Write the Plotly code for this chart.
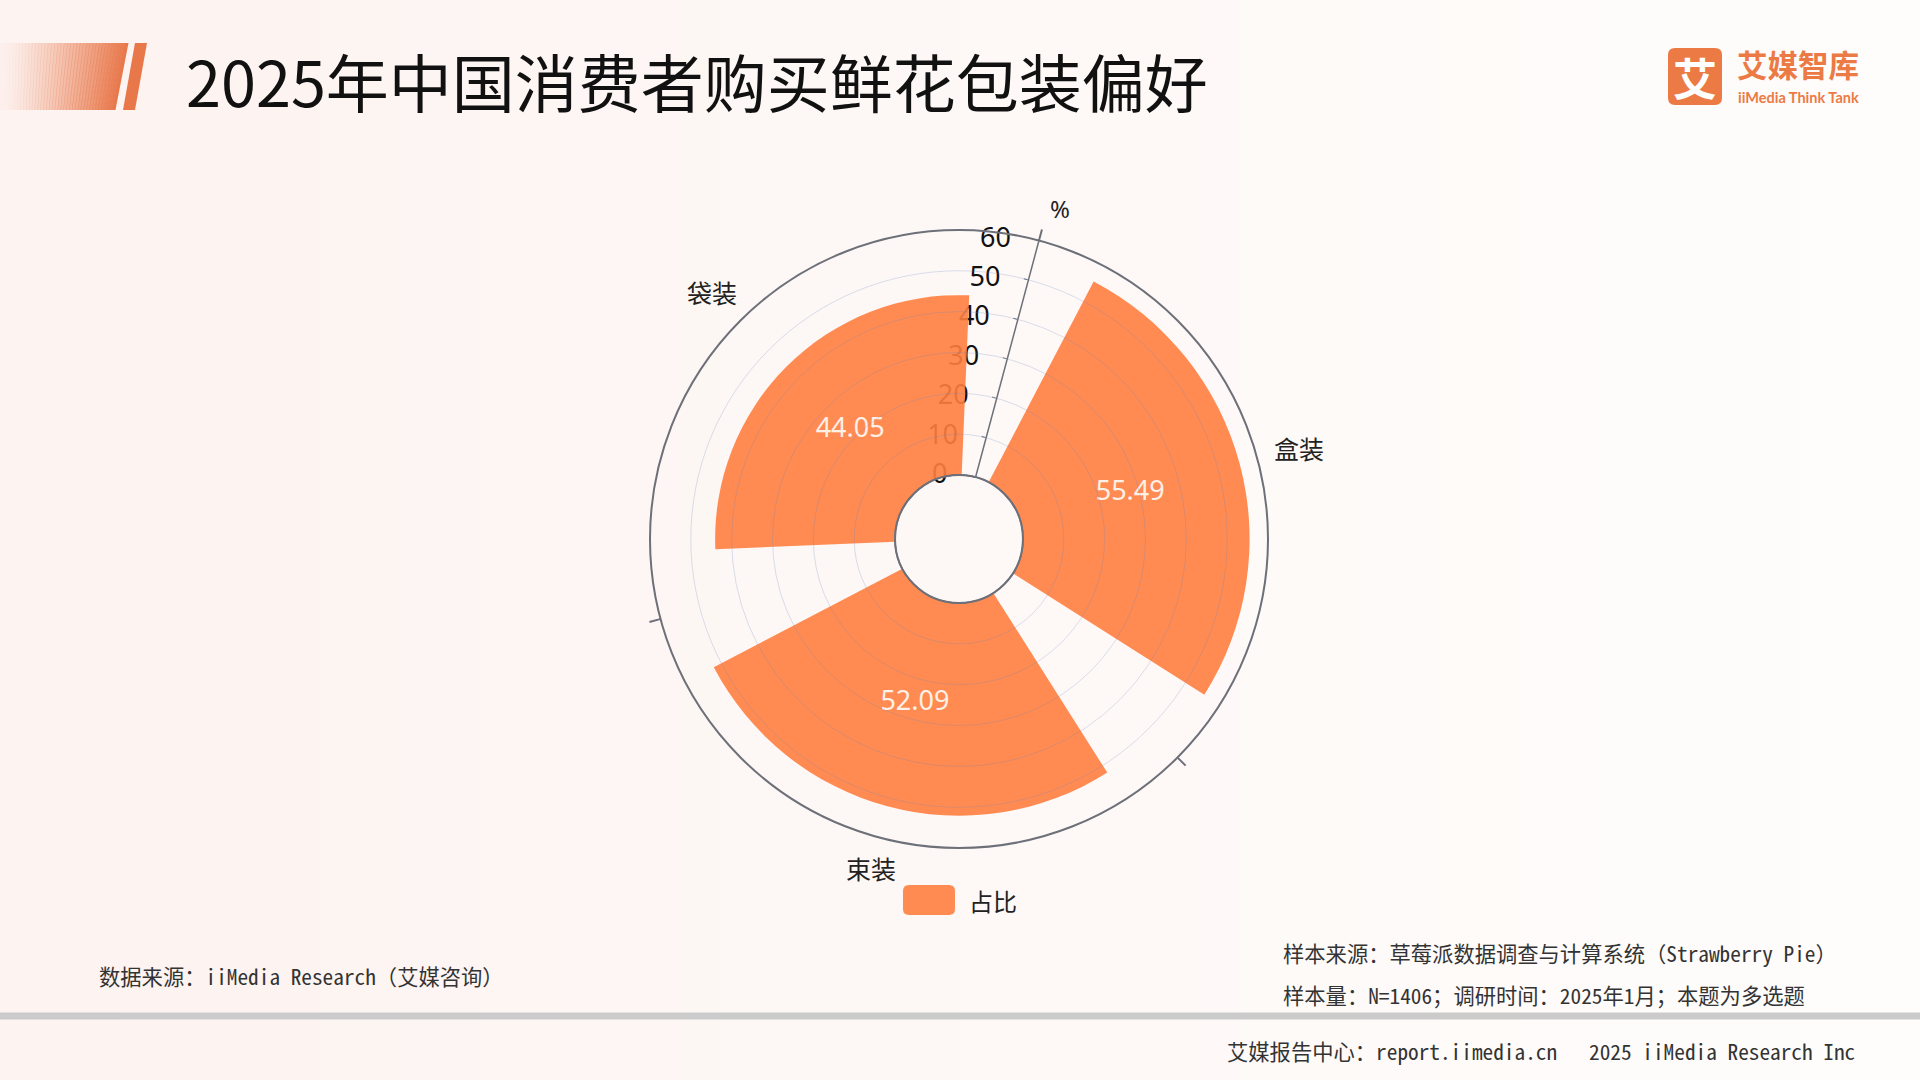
import math
import plotly.graph_objects as go

# ---------------- data ----------------
categories = ["盒装", "束装", "袋装"]
values = [55.49, 52.09, 44.05]
series_name = "占比"
radial_ticks = [0, 10, 20, 30, 40, 50, 60]
radial_unit = "%"
title_text = "2025年中国消费者购买鲜花包装偏好"
source_left = "数据来源：iiMedia Research（艾媒咨询）"
sample_source = "样本来源：草莓派数据调查与计算系统（Strawberry Pie）"
sample_size = "样本量：N=1406；调研时间：2025年1月；本题为多选题"
footer_text = "艾媒报告中心：report.iimedia.cn\u00a0\u00a0\u00a02025 iiMedia Research Inc"

# ---------------- layout helpers ----------------
W, H = 1920, 1080
CX, CY, R = 959, 539, 309
HOLE = 0.207
ORANGE = "#e8774a"
BAR_COLOR = "rgba(255,126,64,0.9)"
AXIS_GRAY = "#6e7079"
CJK = "Noto Sans CJK SC"
MONO = "Noto Sans Mono CJK SC, Noto Sans CJK SC"
FOOT = 21.3


def px(x):
    return x / W


def py(y):
    return 1 - y / H


def hexmix(c1, c2, t):
    a = [int(c1[i:i + 2], 16) for i in (1, 3, 5)]
    b = [int(c2[i:i + 2], 16) for i in (1, 3, 5)]
    return "rgb(%d,%d,%d)" % tuple(round(a[k] + (b[k] - a[k]) * t) for k in range(3))


shapes = []
# background horizontal gradient
NB = 48
for i in range(NB):
    shapes.append(dict(type="rect", xref="paper", yref="paper", layer="below",
                       x0=i / NB, x1=(i + 1) / NB + 0.001, y0=0, y1=1,
                       line=dict(width=0),
                       fillcolor=hexmix("#fdf3f0", "#fefdfc", i / (NB - 1))))

# title gradient parallelogram
NG = 40
top_w, bot_w, ty0, ty1 = 128, 115, 43, 110
for i in range(NG):
    a, b = i / NG, (i + 1) / NG
    pts = [(a * top_w, ty0), (b * top_w + 0.5, ty0), (b * bot_w + 0.5, ty1), (a * bot_w, ty1)]
    path = "M " + " L ".join("%f,%f" % (px(x), py(y)) for x, y in pts) + " Z"
    shapes.append(dict(type="path", xref="paper", yref="paper", path=path,
                       fillcolor=ORANGE, opacity=max(0.02, ((i + 0.5) / NG) ** 1.3),
                       line=dict(width=0), layer="above"))
stripe = [(135, 43), (147, 43), (135, 110), (123, 110)]
shapes.append(dict(type="path", xref="paper", yref="paper",
                   path="M " + " L ".join("%f,%f" % (px(x), py(y)) for x, y in stripe) + " Z",
                   fillcolor=ORANGE, line=dict(width=0)))


def rounded_rect(x0, y0, x1, y1, r):
    p = [
        ("M", [(x0 + r, y0)]), ("L", [(x1 - r, y0)]), ("Q", [(x1, y0), (x1, y0 + r)]),
        ("L", [(x1, y1 - r)]), ("Q", [(x1, y1), (x1 - r, y1)]), ("L", [(x0 + r, y1)]),
        ("Q", [(x0, y1), (x0, y1 - r)]), ("L", [(x0, y0 + r)]), ("Q", [(x0, y0), (x0 + r, y0)]),
    ]
    s = ""
    for cmd, pts in p:
        s += cmd + " " + " ".join("%f,%f" % (px(x), py(y)) for x, y in pts) + " "
    return s + "Z"


# logo square
shapes.append(dict(type="path", xref="paper", yref="paper", path=rounded_rect(1668, 48, 1722, 105, 7),
                   fillcolor="#ec7a45", line=dict(width=0)))
# legend swatch
shapes.append(dict(type="path", xref="paper", yref="paper", path=rounded_rect(903, 885, 955, 915, 6),
                   fillcolor="#ff8a52", line=dict(width=0)))
# hole circle
rh = R * HOLE
shapes.append(dict(type="circle", xref="paper", yref="paper",
                   x0=px(CX - rh), x1=px(CX + rh), y0=py(CY + rh), y1=py(CY - rh),
                   line=dict(color=AXIS_GRAY, width=1.5), fillcolor="rgba(0,0,0,0)", layer="above"))
# footer separator
shapes.append(dict(type="rect", xref="paper", yref="paper", x0=0, x1=1,
                   y0=py(1019.5), y1=py(1012.5), fillcolor="#cbcbcb", line=dict(width=0)))

annotations = [
    dict(text=title_text, x=px(184), y=py(79), xanchor="left", yanchor="middle",
         font=dict(size=63, color="#111111", family=CJK)),
    dict(text="<b>艾</b>", x=px(1695), y=py(77), xanchor="center", yanchor="middle",
         font=dict(size=44, color="#ffffff", family=CJK)),
    dict(text="<b>艾媒智库</b>", x=px(1735), y=py(88), xanchor="left", yanchor="bottom",
         font=dict(size=30.5, color="#ec7a45", family=CJK)),
    dict(text="<b>iiMedia Think Tank</b>", x=px(1736), y=py(87), xanchor="left", yanchor="top",
         font=dict(size=14.5, color="#ec7a45", family="Lato, Noto Sans")),
    dict(text=radial_unit, x=px(1060), y=py(208), xanchor="center", yanchor="middle",
         font=dict(size=24, color="#222222", family="Noto Sans")),
    dict(text=series_name, x=px(967), y=py(900), xanchor="left", yanchor="middle",
         font=dict(size=24, color="#222222", family=CJK)),
    dict(text=source_left, x=px(97), y=py(975), xanchor="left", yanchor="middle",
         font=dict(size=FOOT, color="#333333", family=MONO)),
    dict(text=sample_source, x=px(1281), y=py(952), xanchor="left", yanchor="middle",
         font=dict(size=FOOT, color="#333333", family=MONO)),
    dict(text=sample_size, x=px(1281), y=py(994), xanchor="left", yanchor="middle",
         font=dict(size=FOOT, color="#333333", family=MONO)),
    dict(text=footer_text, x=px(1857), y=py(1050), xanchor="right", yanchor="middle",
         font=dict(size=FOOT, color="#333333", family=MONO)),
]

# ---------------- geometry for category labels ----------------
n = len(categories)
step = 360 / n
rotation = 15                       # plotly degrees (ccw from east) of first category
axis_angle = rotation + step / 2
boundaries = [step * (i + 0.5) for i in range(n)]
r_lo, r_hi = radial_ticks[0], radial_ticks[-1]
LABEL_EDGE = 325                    # px from centre to near edge of a category label
LAB_W, LAB_H = 50, 18

for i, cat in enumerate(categories):
    phi = math.radians(90 - rotation + i * step)    # clockwise from north
    half = abs(LAB_W / 2 * math.sin(phi)) + abs(LAB_H / 2 * math.cos(phi))
    d = LABEL_EDGE + half
    annotations.append(dict(text=cat, x=px(CX + d * math.sin(phi)), y=py(CY - d * math.cos(phi)),
                            xanchor="center", yanchor="middle",
                            font=dict(size=25, color="#222222", family=CJK)))

for a in annotations:
    a.update(xref="paper", yref="paper", showarrow=False)

# ---------------- traces ----------------
fig = go.Figure()
fig.add_trace(go.Barpolar(
    r=values, theta=categories, name=series_name,
    marker=dict(color=BAR_COLOR, line=dict(width=0)),
    showlegend=False, subplot="polar",
))
fig.add_trace(go.Scatterpolar(
    r=[v / 2 for v in values], theta=categories, mode="text",
    text=["%.2f" % v for v in values],
    textfont=dict(size=27, color="#fdf0e6", family="Noto Sans"),
    showlegend=False, subplot="polar", hoverinfo="skip",
))
# empty trace to create the overlay polar (grid + boundary ticks)
fig.add_trace(go.Scatterpolar(r=[], theta=[], subplot="polar2", showlegend=False))

domain = dict(x=[px(CX - R), px(CX + R)], y=[py(CY + R), py(CY - R)])

fig.update_layout(
    width=W, height=H,
    margin=dict(l=0, r=0, t=0, b=0),
    paper_bgcolor="#fdf6f3",
    showlegend=False,
    polar=dict(
        domain=domain, hole=HOLE, bgcolor="rgba(0,0,0,0)", bargap=0.21,
        angularaxis=dict(
            type="category", categoryarray=categories, rotation=rotation,
            direction="clockwise", showline=True, linecolor=AXIS_GRAY, linewidth=2,
            showgrid=False, ticks="", showticklabels=False,
        ),
        radialaxis=dict(
            range=[r_lo, r_hi], tickvals=radial_ticks,
            angle=axis_angle, tickangle=axis_angle, side="counterclockwise",
            showline=True, linecolor=AXIS_GRAY,
            linewidth=1.5, ticks="outside", ticklen=4, tickcolor=AXIS_GRAY,
            showgrid=False, layer="below traces",
            tickfont=dict(size=27, color="#111111", family="Noto Sans"),
        ),
    ),
    polar2=dict(
        domain=domain, hole=HOLE, bgcolor="rgba(0,0,0,0)",
        angularaxis=dict(
            type="linear", rotation=rotation, direction="clockwise",
            tickvals=boundaries, ticks="outside", ticklen=11, tickwidth=1.5,
            tickcolor=AXIS_GRAY, showticklabels=False, showline=False, showgrid=False,
        ),
        radialaxis=dict(
            range=[r_lo, r_hi], tickvals=radial_ticks,
            showgrid=True, gridcolor="rgba(100,130,190,0.24)", gridwidth=1.2,
            showline=False, showticklabels=False, ticks="",
        ),
    ),
    shapes=shapes,
    annotations=annotations,
)

fig.write_html("out.html", config={"displayModeBar": False},
               post_script="document.body.style.margin='0';document.body.style.overflow='hidden';")
